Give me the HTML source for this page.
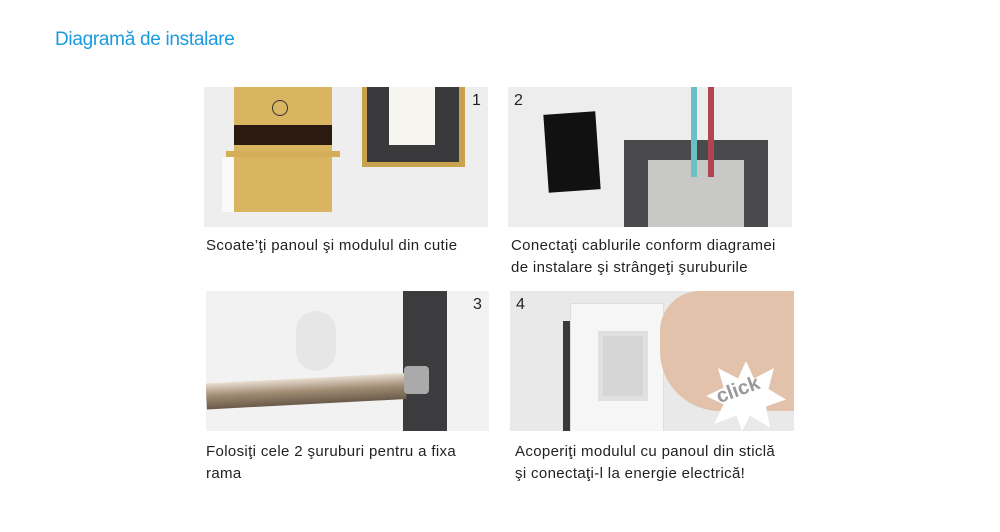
<!DOCTYPE html>
<html><head><meta charset="utf-8"><style>
body{margin:0;width:1000px;height:532px;background:#fff;position:relative;overflow:hidden;font-family:"Liberation Sans",sans-serif}
.a{position:absolute}
.t{color:#222;font-size:15px;line-height:22px;letter-spacing:0.35px}
.p{background:#ededed;overflow:hidden}
.n{position:absolute;font-size:16px;color:#222}
</style></head><body>
<div class="a" style="left:55px;top:29px;font-size:19px;color:#1a9be0;letter-spacing:-0.3px">Diagramă de instalare</div>

<!-- panel 1 -->
<div class="a p" style="left:204px;top:87px;width:284px;height:140px;background:#eeeeee">
 <div class="a" style="left:18px;top:70px;width:106px;height:55px;background:#fafafa"></div>
 <div class="a" style="left:30px;top:0;width:98px;height:125px;background:#d9b562"></div>
 <div class="a" style="left:22px;top:64px;width:114px;height:6px;background:#d4ae58"></div>
 <div class="a" style="left:30px;top:38px;width:98px;height:20px;background:#2a1a10"></div>
 <div class="a" style="left:68px;top:13px;width:14px;height:14px;border:1px solid #333;border-radius:50%"></div>
 <div class="a" style="left:158px;top:0;width:103px;height:80px;background:#c9a24e"></div>
 <div class="a" style="left:163px;top:0;width:92px;height:75px;background:#3a3a3c"></div>
 <div class="a" style="left:185px;top:0;width:46px;height:58px;background:#f7f5f0"></div>
 <div class="n" style="left:268px;top:5px">1</div>
</div>

<!-- panel 2 -->
<div class="a p" style="left:508px;top:87px;width:284px;height:140px">
 <div class="a" style="left:38px;top:26px;width:52px;height:78px;background:#111;transform:rotate(-4deg)"></div>
 <div class="a" style="left:116px;top:53px;width:144px;height:90px;background:#4a4a4c"></div>
 <div class="a" style="left:140px;top:73px;width:96px;height:70px;background:#c8c8c6"></div>
 <div class="a" style="left:183px;top:0;width:6px;height:90px;background:#6cc0c4"></div>
 <div class="a" style="left:200px;top:0;width:6px;height:90px;background:#b04450"></div>
 <div class="n" style="left:6px;top:5px">2</div>
</div>

<!-- panel 3 -->
<div class="a p" style="left:206px;top:291px;width:283px;height:140px;background:#f2f2f2">
 <div class="a" style="left:90px;top:20px;width:40px;height:60px;background:#e6e6e6;border-radius:20px"></div>
 <div class="a" style="left:197px;top:0;width:44px;height:140px;background:#3c3c3e"></div>
 <div class="a" style="left:0;top:82px;width:200px;height:26px;background:linear-gradient(#e8ddd0,#a08a72 50%,#6a5a4a);transform:rotate(-3deg);transform-origin:right center"></div>
 <div class="a" style="left:198px;top:75px;width:25px;height:28px;background:#aaa;border-radius:4px"></div>
 <div class="n" style="left:267px;top:5px">3</div>
</div>

<!-- panel 4 -->
<div class="a p" style="left:510px;top:291px;width:284px;height:140px;background:#e9e9e9">
 <div class="a" style="left:53px;top:30px;width:40px;height:110px;background:#3a3a3c"></div>
 <div class="a" style="left:60px;top:12px;width:92px;height:128px;background:#f6f6f6;border:1px solid #ddd"></div>
 <div class="a" style="left:88px;top:40px;width:40px;height:60px;border:5px solid #e0e0e0;background:#d6d6d6"></div>
 <div class="a" style="left:150px;top:0;width:134px;height:120px;background:#e2c2aa;border-radius:40px 0 0 60px"></div>
 <div class="a" style="left:196px;top:70px;width:80px;height:70px;background:#fff;clip-path:polygon(50% 0,60% 25%,85% 10%,78% 40%,100% 55%,75% 65%,80% 95%,55% 78%,45% 100%,38% 78%,10% 90%,22% 62%,0 50%,22% 38%,15% 10%,40% 25%)"></div>
 <div class="a" style="left:206px;top:88px;font-size:20px;font-weight:bold;color:#999;transform:rotate(-20deg)">click</div>
 <div class="n" style="left:6px;top:5px">4</div>
</div>

<div class="a t" style="left:206px;top:235px">Scoate’ţi panoul şi modulul din cutie</div>
<div class="a t" style="left:511px;top:235px">Conectaţi cablurile conform diagramei<br>de instalare şi strângeţi şuruburile</div>
<div class="a t" style="left:206px;top:441px">Folosiţi cele 2 şuruburi pentru a fixa<br>rama</div>
<div class="a t" style="left:515px;top:441px">Acoperiţi modulul cu panoul din sticlă<br>şi conectaţi-l la energie electrică!</div>
</body></html>
